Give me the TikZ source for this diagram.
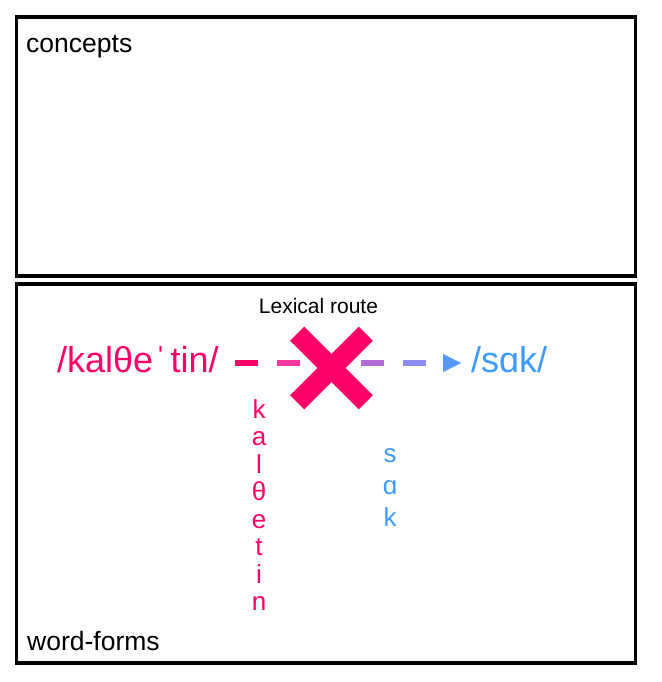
\documentclass[tikz,border=0pt]{standalone}
\usepackage{fontspec}
\setmainfont{Liberation Sans}
\usetikzlibrary{arrows.meta,calc}
\definecolor{pinkc}{HTML}{FF0066}
\definecolor{bluec}{HTML}{3D9BFF}
\definecolor{dashb}{HTML}{F0389F}
\definecolor{dashm}{HTML}{D552BD}
\definecolor{dashc}{HTML}{B46CDA}
\definecolor{dashd}{HTML}{8C8CEE}
\definecolor{tipc}{HTML}{5599FF}
\tikzset{
  panel/.style={draw, line width=3.5, inner sep=0, outer sep=0, anchor=north west},
  lbl/.style={font=\fontsize{26.5}{30}\selectfont, anchor=base west, inner sep=0},
  ipa/.style={font=\fontsize{36}{40}\selectfont, anchor=base west, inner sep=0},
  spell/.style={font=\fontsize{26}{27.5}\selectfont, align=center, anchor=north, inner sep=0},
}
\begin{document}
\begin{tikzpicture}[x=1pt,y=-1pt]
  \useasboundingbox (0,0) rectangle (661,682);
  % two layers
  \node[panel, minimum width=619, minimum height=259] (conc) at (16.5,17) {};
  \node[panel, minimum width=619, minimum height=379] (forms) at (16.5,284) {};
  \node[lbl] (conclbl) at (26,53) {concepts};
  \node[lbl] (formslbl) at (27,650) {word-forms};
  \node[font=\fontsize{21}{24}\selectfont, anchor=base, inner sep=0] (route) at (318.5,313) {Lexical route};
  % the two words
  \node[ipa, text=pinkc] (kal) at (57,372) {/kalθe\kern1.5ptˈ\kern4pt tin/};
  \node[ipa, text=bluec] (sak) at (471,372) {/sɑk/};
  \node[spell, text=pinkc] (kalsp) at (259,399) {k\\a\\l\\θ\\e\\t\\i\\n};
  \node[spell, text=bluec, font=\fontsize{26}{32}\selectfont] (saksp) at (390,448) {s\\ɑ\\k};
  % blocked route
  \coordinate (block) at (331.5,368);
  \path (block) ++(-96.5,-5) coordinate (d0);
  \foreach \c [count=\i from 0] in {pinkc,dashb,dashm,dashc,dashd}
    \draw[\c, line width=6] ($(d0)+(42*\i,0)$) -- ++(23,0);
  \draw[tipc, line width=0.1, -{Triangle[length=18pt,width=18pt]}]
    ($(sak.base west)+(-28,-9)$) -- ($(sak.base west)+(-10,-9)$);
  \draw[pinkc, line width=20] ($(block)+(-34.3,-34.3)$) -- ($(block)+(34.3,34.3)$)
    ($(block)+(-34.3,34.3)$) -- ($(block)+(34.3,-34.3)$);
\end{tikzpicture}
\end{document}
